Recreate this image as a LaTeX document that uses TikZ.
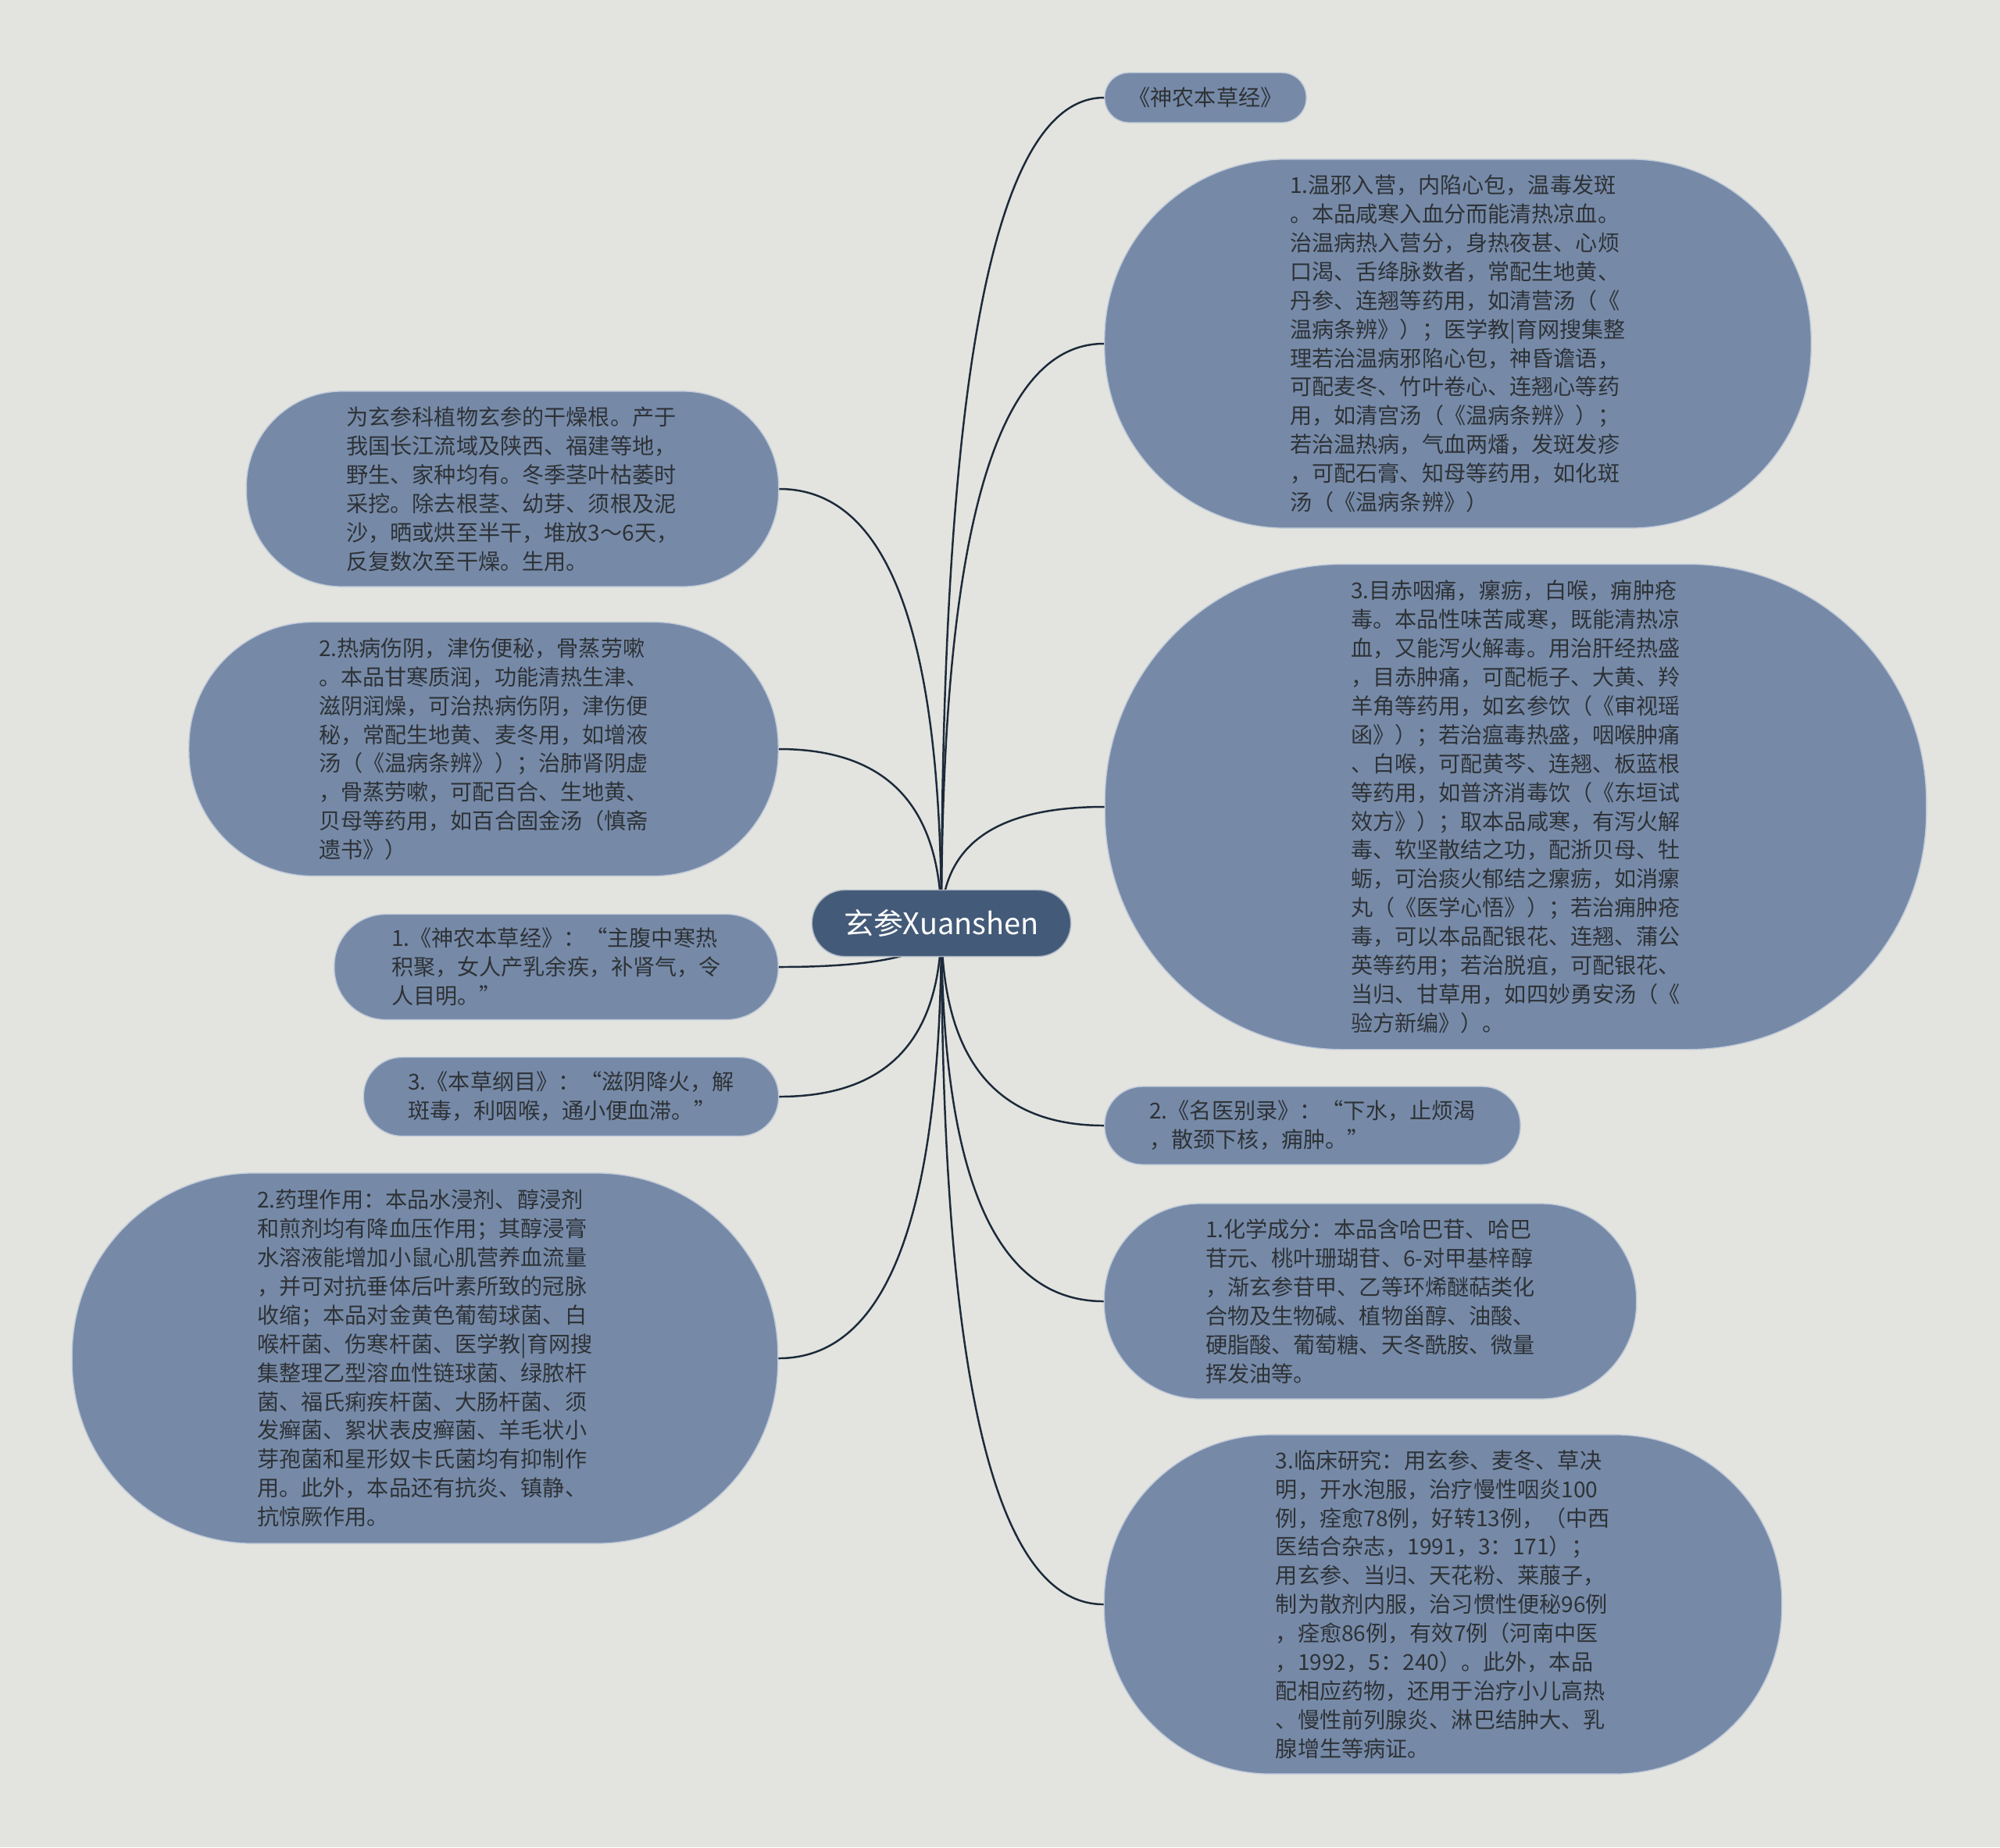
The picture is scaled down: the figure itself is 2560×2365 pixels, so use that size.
\documentclass[tikz,border=0pt]{standalone}
\usepackage{fontspec}
\setmainfont{Noto Sans CJK SC}
\usetikzlibrary{calc}
\definecolor{paper}{HTML}{E3E4DF}
\definecolor{leafcol}{HTML}{768AA8}
\definecolor{rootcol}{HTML}{435A78}
\definecolor{inkcol}{HTML}{2E3236}
\definecolor{branchcol}{HTML}{1C2A3A}
\newcommand\leaffont{\fontsize{8pt}{10.5pt}\selectfont}
\newcommand\rootfont{\fontsize{10.8pt}{13pt}\selectfont}
\begin{document}
\begin{tikzpicture}[x=0.01cm,y=-0.01cm,
    leaf/.style 2 args={fill=leafcol, draw=white!55!leafcol, line width=0.4pt, text=inkcol, font=\leaffont, align=left, inner sep=0pt, minimum width=#1, minimum height=#2, rounded corners=0.49*#2},
    root/.style={fill=rootcol, draw=white!55!rootcol, line width=0.4pt, text=white, font=\rootfont, inner sep=0pt, minimum width=3.31cm, minimum height=0.85cm, rounded corners=0.42cm},
    branch/.style={draw=branchcol, line width=0.7pt}]
        \fill[paper] (0,0) rectangle (2560,2365);
        \coordinate (hub) at (1205,1182);
        \node[leaf={2.58cm}{0.64cm}] (shennong) at (1543,125) {《神农本草经》};
        \node[leaf={9.04cm}{4.72cm}] (wenxie) at (1866,440) {1.温邪入营，内陷心包，温毒发斑\\。本品咸寒入血分而能清热凉血。\\治温病热入营分，身热夜甚、心烦\\口渴、舌绛脉数者，常配生地黄、\\丹参、连翘等药用，如清营汤（《\\温病条辨》）；医学教|育网搜集整\\理若治温病邪陷心包，神昏谵语，\\可配麦冬、竹叶卷心、连翘心等药\\用，如清宫汤（《温病条辨》）；\\若治温热病，气血两燔，发斑发疹\\，可配石膏、知母等药用，如化斑\\汤（《温病条辨》）};
        \node[leaf={10.51cm}{6.21cm}] (muchi) at (1940,1033) {3.目赤咽痛，瘰疬，白喉，痈肿疮\\毒。本品性味苦咸寒，既能清热凉\\血，又能泻火解毒。用治肝经热盛\\，目赤肿痛，可配栀子、大黄、羚\\羊角等药用，如玄参饮（《审视瑶\\函》）；若治瘟毒热盛，咽喉肿痛\\、白喉，可配黄芩、连翘、板蓝根\\等药用，如普济消毒饮（《东垣试\\效方》）；取本品咸寒，有泻火解\\毒、软坚散结之功，配浙贝母、牡\\蛎，可治痰火郁结之瘰疬，如消瘰\\丸（《医学心悟》）；若治痈肿疮\\毒，可以本品配银花、连翘、蒲公\\英等药用；若治脱疽，可配银花、\\当归、甘草用，如四妙勇安汤（《\\验方新编》）。};
        \node[leaf={5.32cm}{1.00cm}] (mingyi) at (1680,1441) {2.《名医别录》：“下水，止烦渴\\，散颈下核，痈肿。”};
        \node[leaf={6.81cm}{2.50cm}] (huaxue) at (1754,1666) {1.化学成分：本品含哈巴苷、哈巴\\苷元、桃叶珊瑚苷、6-对甲基梓醇\\，渐玄参苷甲、乙等环烯醚萜类化\\合物及生物碱、植物甾醇、油酸、\\硬脂酸、葡萄糖、天冬酰胺、微量\\挥发油等。};
        \node[leaf={8.67cm}{4.34cm}] (linchuang) at (1847,2054) {3.临床研究：用玄参、麦冬、草决\\明，开水泡服，治疗慢性咽炎100\\例，痊愈78例，好转13例，（中西\\医结合杂志，1991，3：171）；\\用玄参、当归、天花粉、莱菔子，\\制为散剂内服，治习惯性便秘96例\\，痊愈86例，有效7例（河南中医\\，1992，5：240）。此外，本品\\配相应药物，还用于治疗小儿高热\\、慢性前列腺炎、淋巴结肿大、乳\\腺增生等病证。};
        \node[leaf={6.81cm}{2.50cm}] (chandi) at (656,626) {为玄参科植物玄参的干燥根。产于\\我国长江流域及陕西、福建等地，\\野生、家种均有。冬季茎叶枯萎时\\采挖。除去根茎、幼芽、须根及泥\\沙，晒或烘至半干，堆放3～6天，\\反复数次至干燥。生用。};
        \node[leaf={7.54cm}{3.25cm}] (rebing) at (619,959) {2.热病伤阴，津伤便秘，骨蒸劳嗽\\。本品甘寒质润，功能清热生津、\\滋阴润燥，可治热病伤阴，津伤便\\秘，常配生地黄、麦冬用，如增液\\汤（《温病条辨》）；治肺肾阴虚\\，骨蒸劳嗽，可配百合、生地黄、\\贝母等药用，如百合固金汤（慎斋\\遗书》）};
        \node[leaf={5.68cm}{1.35cm}] (benjing) at (712,1238) {1.《神农本草经》：“主腹中寒热\\积聚，女人产乳余疾，补肾气，令\\人目明。”};
        \node[leaf={5.31cm}{1.01cm}] (gangmu) at (731,1404) {3.《本草纲目》：“滋阴降火，解\\斑毒，利咽喉，通小便血滞。”};
        \node[leaf={9.03cm}{4.74cm}] (yaoli) at (544,1739) {2.药理作用：本品水浸剂、醇浸剂\\和煎剂均有降血压作用；其醇浸膏\\水溶液能增加小鼠心肌营养血流量\\，并可对抗垂体后叶素所致的冠脉\\收缩；本品对金黄色葡萄球菌、白\\喉杆菌、伤寒杆菌、医学教|育网搜\\集整理乙型溶血性链球菌、绿脓杆\\菌、福氏痢疾杆菌、大肠杆菌、须\\发癣菌、絮状表皮癣菌、羊毛状小\\芽孢菌和星形奴卡氏菌均有抑制作\\用。此外，本品还有抗炎、镇静、\\抗惊厥作用。};
        \foreach \n in {shennong,wenxie,muchi,mingyi,huaxue,linchuang}
            \draw[branch] (hub) .. controls ($(hub)!0.67!(hub |- \n.west)$) and ($(\n.west)!0.67!(hub |- \n.west)$) .. (\n.west);
        \foreach \n in {chandi,rebing,benjing,gangmu,yaoli}
            \draw[branch] (hub) .. controls ($(hub)!0.67!(hub |- \n.east)$) and ($(\n.east)!0.67!(hub |- \n.east)$) .. (\n.east);
        \node[root] (xuanshen) at (hub) {玄参Xuanshen};
    \end{tikzpicture}
\end{document}
